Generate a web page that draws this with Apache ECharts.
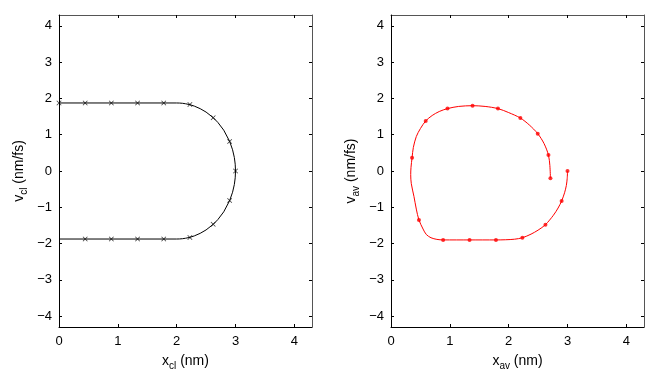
<!DOCTYPE html>
<html>
<head>
<meta charset="utf-8">
<script src="https://cdn.jsdelivr.net/npm/echarts@6/dist/echarts.min.js"></script>
<style>
html, body { margin: 0; padding: 0; background: #fff; }
#main { width: 664px; height: 370px; }
</style>
</head>
<body>
<div id="main"></div>
<script>
// tick values
var xTicks = [0, 1, 2, 3, 4];
var yTicks = [-4, -3, -2, -1, 0, 1, 2, 3, 4];

// classical trajectory (left) - curve
var clLineX = [0, 2.0, 2.05, 2.1, 2.15, 2.227, 2.3, 2.4, 2.5, 2.62, 2.7, 2.8, 2.9, 2.95, 2.98, 2.995, 3.0,
               2.995, 2.98, 2.95, 2.9, 2.8, 2.7, 2.62, 2.5, 2.4, 2.3, 2.227, 2.15, 2.1, 2.05, 2.0, 0];
var clLineV = [1.875, 1.875, 1.873, 1.866, 1.854, 1.827, 1.789, 1.718, 1.624, 1.472, 1.339, 1.125, 0.817, 0.585, 0.373, 0.187, 0,
               -0.187, -0.373, -0.585, -0.817, -1.125, -1.339, -1.472, -1.624, -1.718, -1.789, -1.827, -1.854, -1.866, -1.873, -1.875, -1.875];
// classical markers
var clMarkX = [0, 0.445, 0.89, 1.335, 1.78, 2.225, 2.62, 2.9, 3.0, 2.9, 2.62, 2.225, 1.78, 1.335, 0.89, 0.445];
var clMarkV = [1.875, 1.875, 1.875, 1.875, 1.875, 1.83, 1.47, 0.81, 0, -0.81, -1.47, -1.83, -1.875, -1.875, -1.875, -1.875];

// averaged trajectory (right)
var avLineX = [3.0, 2.995, 2.98, 2.95, 2.9, 2.84, 2.76, 2.625, 2.5, 2.38, 2.233, 2.1, 1.95, 1.784, 1.335, 0.886,
               0.78, 0.68, 0.6, 0.545, 0.475, 0.43, 0.39, 0.345, 0.335, 0.34, 0.358, 0.38, 0.43, 0.5, 0.59, 0.7, 0.82,
               0.96, 1.15, 1.386, 1.6, 1.818, 2.0, 2.199, 2.35, 2.494, 2.6, 2.676, 2.70, 2.71];
var avLineV = [0, -0.2, -0.4, -0.6, -0.826, -1.02, -1.22, -1.48, -1.63, -1.74, -1.84, -1.88, -1.895, -1.9, -1.9, -1.9,
               -1.885, -1.84, -1.75, -1.6, -1.35, -1.05, -0.7, -0.35, -0.1, 0.1, 0.365, 0.65, 0.95, 1.17, 1.38, 1.53, 1.64,
               1.72, 1.78, 1.8, 1.78, 1.72, 1.61, 1.46, 1.27, 1.03, 0.76, 0.44, 0.15, -0.2];
var avMarkX = [3.0, 2.9, 2.625, 2.233, 1.784, 1.335, 0.886, 0.475, 0.358, 0.59, 0.96, 1.386, 1.818, 2.199, 2.494, 2.676, 2.71];
var avMarkV = [0, -0.826, -1.48, -1.84, -1.9, -1.9, -1.9, -1.35, 0.365, 1.38, 1.72, 1.8, 1.72, 1.46, 1.03, 0.44, -0.2];

function pairs(xs, ys) {
  var out = [];
  for (var i = 0; i < xs.length; i++) out.push([xs[i], ys[i]]);
  return out;
}

var fontFam = '"Liberation Sans", Arial, sans-serif';
var nameRich = {
  m: { fontSize: 14, fontFamily: fontFam, color: '#000' },
  s: { fontSize: 10, fontFamily: fontFam, color: '#000', padding: [10, 0, 0, 0] }
};

function mainX(grid, sub) {
  return {
    type: 'value', gridIndex: grid, position: 'bottom', min: 0, max: 4.3,
    name: '{m|x}{s|' + sub + '}{m| (nm)}', nameLocation: 'middle', nameGap: 24,
    nameTextStyle: { rich: nameRich },
    axisLine: { show: true, onZero: false, lineStyle: { color: '#000', width: 1 } },
    axisTick: { show: true, inside: true, length: 3, customValues: xTicks, lineStyle: { color: '#000' } },
    axisLabel: { customValues: xTicks, fontSize: 13, fontFamily: fontFam, color: '#000', margin: 8 },
    splitLine: { show: false }
  };
}
function topX(grid) {
  return {
    type: 'value', gridIndex: grid, position: 'top', min: 0, max: 4.3,
    axisLine: { show: true, onZero: false, lineStyle: { color: '#555', width: 1 } },
    axisTick: { show: true, inside: true, length: 3, customValues: xTicks, lineStyle: { color: '#000' } },
    axisLabel: { show: false },
    splitLine: { show: false }
  };
}
function mainY(grid, sub) {
  return {
    type: 'value', gridIndex: grid, position: 'left', min: -4.3, max: 4.3,
    name: '{m|v}{s|' + sub + '}{m| (nm/fs)}', nameLocation: 'middle', nameGap: 30, nameRotate: 90,
    nameTextStyle: { rich: nameRich },
    axisLine: { show: true, onZero: false, lineStyle: { color: '#000', width: 1 } },
    axisTick: { show: true, inside: true, length: 3, customValues: yTicks, lineStyle: { color: '#000' } },
    axisLabel: {
      customValues: yTicks, fontSize: 13, fontFamily: fontFam, color: '#000', margin: 7,
      formatter: function (v) { return String(v).replace('-', '\u2212'); }
    },
    splitLine: { show: false }
  };
}
function rightY(grid) {
  return {
    type: 'value', gridIndex: grid, position: 'right', min: -4.3, max: 4.3,
    axisLine: { show: true, onZero: false, lineStyle: { color: '#555', width: 1 } },
    axisTick: { show: true, inside: true, length: 3, customValues: yTicks, lineStyle: { color: '#000' } },
    axisLabel: { show: false },
    splitLine: { show: false }
  };
}

var crossPath = 'path://M0,1L1,0L5,4L9,0L10,1L6,5L10,9L9,10L5,6L1,10L0,9L4,5Z';

var chart = echarts.init(document.getElementById('main'));
chart.setOption({
  animation: false,
  backgroundColor: '#fff',
  grid: [
    { left: 59, top: 15, width: 253, height: 312, outerBoundsMode: 'none' },
    { left: 391, top: 15, width: 253, height: 312, outerBoundsMode: 'none' }
  ],
  xAxis: [mainX(0, 'cl'), topX(0), mainX(1, 'av'), topX(1)],
  yAxis: [mainY(0, 'cl'), rightY(0), mainY(1, 'av'), rightY(1)],
  series: [
    {
      type: 'line', xAxisIndex: 0, yAxisIndex: 0, data: pairs(clLineX, clLineV),
      showSymbol: false, lineStyle: { color: '#000', width: 1 }, z: 2
    },
    {
      type: 'scatter', xAxisIndex: 0, yAxisIndex: 0, data: pairs(clMarkX, clMarkV),
      symbol: crossPath, symbolSize: 5, itemStyle: { color: '#000' }, z: 3
    },
    {
      type: 'line', xAxisIndex: 2, yAxisIndex: 2, data: pairs(avLineX, avLineV),
      showSymbol: false, smooth: 0.3, lineStyle: { color: '#ff0000', width: 1 }, z: 2
    },
    {
      type: 'scatter', xAxisIndex: 2, yAxisIndex: 2, data: pairs(avMarkX, avMarkV),
      symbol: 'circle', symbolSize: 4, itemStyle: { color: '#ff0000' }, z: 3
    }
  ]
});
</script>
</body>
</html>
